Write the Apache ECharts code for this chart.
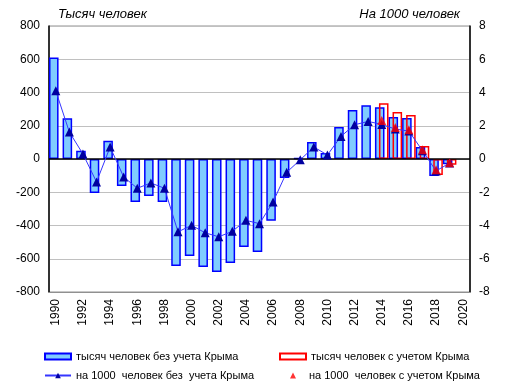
<!DOCTYPE html>
<html><head><meta charset="utf-8">
<script src="https://cdn.jsdelivr.net/npm/echarts@6/dist/echarts.min.js"></script>
<style>html,body{margin:0;padding:0;background:#fff}#c{width:517px;height:391px}</style>
</head><body><div id="c"></div>
<script>
var years = ['1990','1991','1992','1993','1994','1995','1996','1997','1998','1999','2000','2001','2002','2003','2004','2005','2006','2007','2008','2009','2010','2011','2012','2013','2014','2015','2016','2017','2018','2019','2020'];
var thousandNoCrimea = [610,245,50,-204,110,-162,-258,-222,-258,-643,-583,-649,-679,-625,-529,-559,-372,-114,5,102,36,192,294,324,312,252,246,72,-102,-32,null];
var thousandWithCrimea = [null,null,null,null,null,null,null,null,null,null,null,null,null,null,null,null,null,null,null,null,null,null,null,null,336,282,264,78,-96,-34,null];
var per1000NoCrimea = [4.1,1.62,0.3,-1.38,0.72,-1.08,-1.76,-1.44,-1.76,-4.38,-3.99,-4.44,-4.68,-4.35,-3.69,-3.89,-2.58,-0.8,-0.05,0.72,0.24,1.36,2.06,2.26,2.08,1.8,1.68,0.5,-0.72,-0.24,null];
var per1000WithCrimea = [null,null,null,null,null,null,null,null,null,null,null,null,null,null,null,null,null,null,null,null,null,null,null,null,2.32,1.9,1.76,0.56,-0.64,-0.22,null];
var leftTicks = [-800,-600,-400,-200,0,200,400,600,800];
var rightTicks = [-8,-6,-4,-2,0,2,4,6,8];

var FONT = 'Liberation Sans, Arial, sans-serif';
var chart = echarts.init(document.getElementById('c'), null, {renderer:'canvas'});
var legendText = {fontFamily: FONT, fontSize: 11, color: '#000'};
chart.setOption({
  animation: false,
  backgroundColor: '#fff',
  textStyle: {fontFamily: FONT},
  graphic: [
    {type:'text', left: 58, top: 8, style:{text:'Тысяч человек', font:'italic 13px ' + FONT, fill:'#000'}},
    {type:'text', right: 57, top: 8, style:{text:'На 1000 человек', font:'italic 13px ' + FONT, fill:'#000', textAlign:'right'}}
  ],
  grid: {left: 49, right: 47, top: 26, bottom: 99, show: true, borderColor: '#909090', borderWidth: 1, containLabel: false},
  legend: [
    {left: 44, top: 351, padding: 0, itemWidth: 26, itemHeight: 6, icon: 'rect', textStyle: legendText, selectedMode: false, data: ['тысяч человек без учета Крыма']},
    {left: 279, top: 351, padding: 0, itemWidth: 26, itemHeight: 6, icon: 'rect', textStyle: legendText, selectedMode: false, data: ['тысяч человек с учетом Крыма']},
    {left: 44, top: 370, padding: 0, itemWidth: 26, itemHeight: 7, textStyle: legendText, selectedMode: false, data: ['на 1000  человек без  учета Крыма']},
    {left: 290, top: 370, padding: 0, itemWidth: 6, itemHeight: 6, textStyle: {fontFamily: FONT, fontSize: 11, color: '#000', padding: [0,0,0,8]}, selectedMode: false, data: ['на 1000  человек с учетом Крыма']}
  ],
  xAxis: {
    type: 'category', data: years, boundaryGap: true,
    axisLine: {onZero: false, lineStyle: {color: '#909090', width: 1}},
    axisTick: {show: false},
    axisLabel: {interval: 1, rotate: 90, margin: 7, fontSize: 12, color: '#000', fontFamily: FONT},
    splitLine: {show: false}
  },
  yAxis: [
    {type: 'value', min: -800, max: 800, interval: 200, position: 'left',
     axisLine: {show: true, lineStyle: {color: '#000', width: 1.5}},
     axisTick: {show: false},
     axisLabel: {margin: 9, fontSize: 12, color: '#000', fontFamily: FONT,
       formatter: function(v){ return leftTicks.indexOf(v) >= 0 ? String(v) : ''; }},
     splitLine: {show: true, lineStyle: {color: '#c0c0c0', width: 1}}},
    {type: 'value', min: -8, max: 8, interval: 2, position: 'right',
     axisLine: {show: true, lineStyle: {color: '#000', width: 1.5}},
     axisTick: {show: false},
     axisLabel: {margin: 9, fontSize: 12, color: '#000', fontFamily: FONT,
       formatter: function(v){ return rightTicks.indexOf(v) >= 0 ? String(v) : ''; }},
     splitLine: {show: false}}
  ],
  series: [
    {name: 'тысяч человек без учета Крыма', type: 'bar', yAxisIndex: 0, data: thousandNoCrimea,
     barCategoryGap: '0%', barGap: '-58%', z: 2,
     itemStyle: {color: '#80CCFF', borderColor: '#0000FF', borderWidth: 1.5},
     markLine: {silent: true, symbol: 'none', label: {show: false},
       lineStyle: {color: '#000', width: 1.5, type: 'solid'}, data: [{yAxis: 0}], z: 5}},
    {name: 'тысяч человек с учетом Крыма', type: 'bar', yAxisIndex: 0, data: thousandWithCrimea,
     barCategoryGap: '0%', barGap: '-58%', z: 3,
     itemStyle: {color: 'rgba(255,255,255,0)', borderColor: '#FF0000', borderWidth: 1.5}},
    {name: 'на 1000  человек без  учета Крыма', type: 'line', yAxisIndex: 1, data: per1000NoCrimea,
     symbol: 'triangle', symbolSize: 9, showAllSymbol: true, z: 6,
     lineStyle: {color: '#3535FF', width: 1},
     itemStyle: {color: '#0000A0', borderColor: '#0000A0', borderWidth: 0}},
    {name: 'на 1000  человек с учетом Крыма', type: 'scatter', yAxisIndex: 1, data: per1000WithCrimea,
     symbol: 'triangle', symbolSize: 9, z: 7,
     itemStyle: {color: '#FF0000'}}
  ]
});
</script></body></html>
